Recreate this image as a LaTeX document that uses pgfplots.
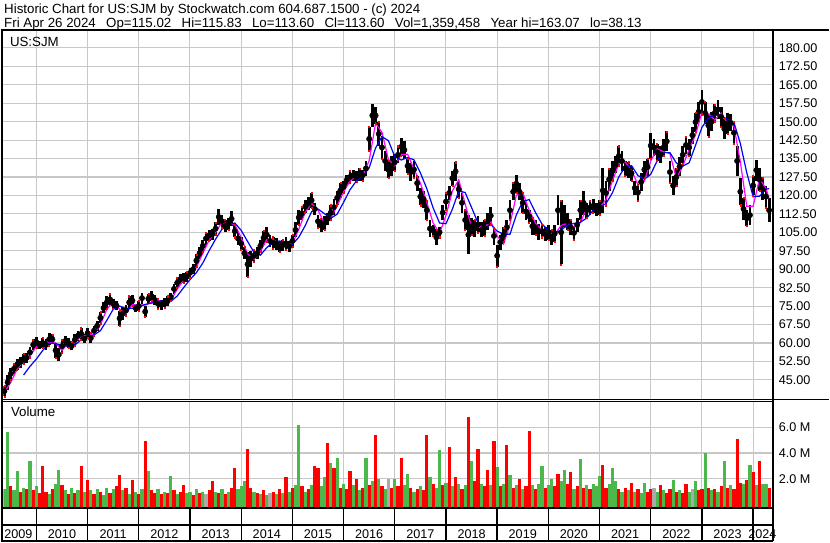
\documentclass[border=0pt]{standalone}
\usepackage{fontspec}
\setmainfont{Liberation Sans}
\usepackage{pgfplots}
\usepackage{pgfplotstable}
\pgfplotsset{compat=1.18}

\definecolor{gridc}{RGB}{200,200,200}
\definecolor{volred}{RGB}{255,0,0}
\definecolor{volgreen}{RGB}{76,184,76}
\definecolor{volgray}{RGB}{170,170,170}
\definecolor{maS}{RGB}{255,0,255}
\definecolor{maL}{RGB}{0,0,255}

% price bars: time (year), low, high
\pgfplotstableread{
t lo hi
2009.375 38.3 42.5
2009.4375 41 47
2009.5 45 50
2009.5625 47.5 51.5
2009.625 49 53.5
2009.6875 50 54.5
2009.75 51.5 55.5
2009.8125 52 56
2009.875 54 58.5
2009.9375 57 61.5
2010.0 58 62.5
2010.0625 57.5 61
2010.125 58 62
2010.1875 57 61.5
2010.25 59 64
2010.3125 59.5 63.5
2010.375 54 60
2010.4375 52.5 58
2010.5 56 61.5
2010.5625 58.5 63
2010.625 58 62
2010.6875 57 60.5
2010.75 59 63.5
2010.8125 61 65
2010.875 61.5 66
2010.9375 60 63.5
2011.0 62 66
2011.0625 60 64
2011.125 63 67
2011.1875 65 69
2011.25 68 72.5
2011.3125 72 76.5
2011.375 74 79
2011.4375 75.5 80
2011.5 74 78
2011.5625 73.5 77
2011.625 67 73
2011.6875 69.5 74.5
2011.75 71 75.5
2011.8125 74 79
2011.875 75 79.5
2011.9375 72.5 76
2012.0 73 77
2012.0625 76 80.5
2012.125 70.5 75
2012.1875 76 80
2012.25 77 81
2012.3125 75.5 79.5
2012.375 74 78
2012.4375 73.5 77.5
2012.5 74.5 78.5
2012.5625 75 79
2012.625 77 80.5
2012.6875 80 84
2012.75 82.5 86.5
2012.8125 84 88
2012.875 84.5 88.5
2012.9375 85 89
2013.0 86.5 90.5
2013.0625 88 92
2013.125 91 96
2013.1875 94 99
2013.25 97 102
2013.3125 100 105
2013.375 101.5 106
2013.4375 102 106.5
2013.5 104 109
2013.5625 108 114.5
2013.625 107 112
2013.6875 105 110
2013.75 106 111
2013.8125 107.5 113.5
2013.875 103 108
2013.9375 100 105
2014.0 98 103
2014.0625 94 99
2014.125 87 97
2014.1875 91 97.5
2014.25 93 98
2014.3125 94 99
2014.375 97 102
2014.4375 100 105.5
2014.5 101 107
2014.5625 99 104
2014.625 98.5 103
2014.6875 98 102.5
2014.75 97 101.5
2014.8125 97.5 102
2014.875 98 103
2014.9375 97 101.5
2015.0 99 104
2015.0625 103 109
2015.125 108 114
2015.1875 110 115.5
2015.25 113 118
2015.3125 114 119.5
2015.375 115 121
2015.4375 112 117
2015.5 107 112
2015.5625 105 110.5
2015.625 106 111.5
2015.6875 108 113
2015.75 110 116
2015.8125 112 118.5
2015.875 116 122
2015.9375 119 125
2016.0 121 126
2016.0625 124 128.5
2016.125 125 130
2016.1875 126 130.5
2016.25 125.5 130
2016.3125 126 131
2016.375 126 130.5
2016.4375 128 134
2016.5 138 148
2016.5625 148 157
2016.625 149 156
2016.6875 140 150
2016.75 135 144
2016.8125 130 138
2016.875 127 134
2016.9375 128 136
2017.0 130 137
2017.0625 133 140
2017.125 136 143.5
2017.1875 135 142
2017.25 129 135
2017.3125 126 133
2017.375 127 134
2017.4375 122 128
2017.5 116 123
2017.5625 115 122
2017.625 110 118
2017.6875 103 110
2017.75 103.5 108
2017.8125 100 106
2017.875 103 107
2017.9375 110 116
2018.0 114 121
2018.0625 118 124
2018.125 124 130
2018.1875 126 133.5
2018.25 119 126
2018.3125 113 121
2018.375 106 114
2018.4375 96 112
2018.5 104 111
2018.5625 103 110
2018.625 105 111.5
2018.6875 103 109
2018.75 103.5 110
2018.8125 106 113
2018.875 108 115.5
2018.9375 100 107
2019.0 91 100
2019.0625 98 104
2019.125 101 107
2019.1875 104 110
2019.25 110 118
2019.3125 118 125
2019.375 121 128.5
2019.4375 118 125
2019.5 113 121
2019.5625 110 117
2019.625 109 114
2019.6875 104 111
2019.75 104 110
2019.8125 102 108.5
2019.875 103 108
2019.9375 101.5 107
2020.0 102 108
2020.0625 100 106
2020.125 101 108
2020.1875 108 120
2020.25 92 118
2020.3125 107 116
2020.375 106 113
2020.4375 104 110
2020.5 102 107.5
2020.5625 105 111
2020.625 110 118
2020.6875 112 122
2020.75 111 117
2020.8125 112 118
2020.875 113 118.5
2020.9375 111.5 117
2021.0 112 118
2021.0625 113 131
2021.125 116 126
2021.1875 122 131
2021.25 126 134
2021.3125 129 136
2021.375 132 140
2021.4375 130 138
2021.5 128 134
2021.5625 127 133.5
2021.625 126 132
2021.6875 120 126
2021.75 118 124.5
2021.8125 122 129
2021.875 127 134
2021.9375 128 135
2022.0 135 145.5
2022.0625 136 143
2022.125 134 141
2022.1875 133 140
2022.25 136 143
2022.3125 138 146
2022.375 125 134
2022.4375 120 128
2022.5 124 131
2022.5625 128 135.5
2022.625 133 140
2022.6875 137 144
2022.75 136 143
2022.8125 141 148
2022.875 146 153.7
2022.9375 150 158
2023.0 153 163
2023.0625 149 158
2023.125 144 153
2023.1875 146 154
2023.25 150 157
2023.3125 151 159
2023.375 148 156
2023.4375 143 151
2023.5 145 153.7
2023.5625 146 153
2023.625 141 150
2023.6875 128 140
2023.75 116 127
2023.8125 110 119
2023.875 107.5 114
2023.9375 108 116
2024.0 120 128
2024.0625 126 134.6
2024.125 122 131
2024.1875 118 127
2024.25 115 124
2024.3125 109 119
}\ohlc

\begin{document}
\begin{tikzpicture}
\begin{scope}[x=0.75pt,y=-0.75pt]
\fill[white] (0,0) rectangle (830,543);
\path[use as bounding box] (0,0) rectangle (830,543);
\end{scope}

\pgfplotsset{
  swchart/.style={
    scale only axis, width=578.25pt,
    xmin=2009.357, xmax=2024.372,
    axis line style={draw=none},
    major tick length=0pt, minor tick length=0pt,
    xtick={2010,...,2024}, xticklabels={},
    grid=major, grid style={gridc, line width=0.8pt},
    yticklabel pos=right,
    tick label style={font=\fontsize{9.5}{11}\selectfont},
    yticklabel style={anchor=west, xshift=1.5pt},
  }
}

% price panel
\begin{axis}[swchart,
  at={(1.5pt,-23.25pt)}, anchor=north west, height=277.5pt,
  ymin=36.9, ymax=186.9,
  ytick={45,52.5,...,180},
  yticklabel style={/pgf/number format/.cd, fixed, fixed zerofill, precision=2, assume math mode=true},
]
\addplot[only marks, mark=none,
  error bars/.cd, y dir=both, y explicit, error mark=none,
  error bar style={black, line width=2.1pt}]
  table[x=t, y expr={(\thisrow{lo}+\thisrow{hi})/2}, y error expr={(\thisrow{hi}-\thisrow{lo})/2}] {\ohlc};
\addplot[only marks, mark=square*, mark size=0.4pt, volred, each nth point=2] table[x=t, y=lo] {\ohlc};
\addplot[only marks, mark=square*, mark size=0.4pt, volred, each nth point=3] table[x=t, y=hi] {\ohlc};
\addplot[maS, line width=0.9pt] coordinates {
(2009.375,40) (2009.5,44) (2009.625,49.4) (2009.75,52.4) (2009.875,54.6)
(2010.0,58.6) (2010.125,59.9) (2010.25,60.3) (2010.375,60) (2010.5,57) (2010.625,59.9) (2010.75,60) (2010.875,62.7)
(2011.0,63.2) (2011.125,63.7) (2011.25,67.4) (2011.375,73.7) (2011.5,76.8) (2011.625,73.8) (2011.75,71.8) (2011.875,75.7)
(2012.0,75.5) (2012.125,75.4) (2012.25,76.6) (2012.375,77.5) (2012.5,76) (2012.625,77.4) (2012.75,81.8) (2012.875,85.7)
(2013.0,87.3) (2013.125,90.7) (2013.25,96.5) (2013.375,101.9) (2013.5,104.9) (2013.625,109.1) (2013.75,108.5) (2013.875,108.2)
(2014.0,102.8) (2014.125,96.3) (2014.25,93.9) (2014.375,97.2) (2014.5,102.1) (2014.625,102.1) (2014.75,100.1) (2014.875,99.9)
(2015.0,100.4) (2015.125,106.2) (2015.25,113.1) (2015.375,116.8) (2015.5,114) (2015.625,108.7) (2015.75,110.8) (2015.875,115.8)
(2016.0,121.5) (2016.125,125.8) (2016.25,127.9) (2016.375,128.2) (2016.5,134.1) (2016.625,149.3) (2016.75,145.7) (2016.875,134.7)
(2017.0,132) (2017.125,136.6) (2017.25,136.8) (2017.375,130.7) (2017.5,125) (2017.625,117.3) (2017.75,108.8) (2017.875,104.6)
(2018.0,111.8) (2018.125,121.8) (2018.25,126.4) (2018.375,116.5) (2018.5,107.2) (2018.625,107.4) (2018.75,107) (2018.875,109.4)
(2019.0,103.6) (2019.125,100.2) (2019.25,108.3) (2019.375,120.1) (2019.5,121.1) (2019.625,114) (2019.75,108.7) (2019.875,105.9)
(2020.0,104.9) (2020.125,104.2) (2020.25,107.8) (2020.375,108.7) (2020.5,107.1) (2020.625,108.9) (2020.75,115) (2020.875,114.9)
(2021.0,115) (2021.125,118.3) (2021.25,125.8) (2021.375,132.8) (2021.5,133.7) (2021.625,130.1) (2021.75,124.4) (2021.875,125.8)
(2022.0,134) (2022.125,139) (2022.25,137.8) (2022.375,137) (2022.5,127) (2022.625,131.9) (2022.75,138.8) (2022.875,144.6)
(2023.0,153.9) (2023.125,153.3) (2023.25,150.7) (2023.375,153.5) (2023.5,149.4) (2023.625,148.1) (2023.75,133.7) (2023.875,115.6)
(2024.0,115.6) (2024.125,126.9) (2024.25,122.8) (2024.3125,118.7)
};
\addplot[maL, line width=0.9pt] coordinates {
(2009.75,47) (2009.875,50.5)
(2010.0,53.5) (2010.125,57) (2010.25,60) (2010.375,59.8) (2010.5,58.9) (2010.625,58.9) (2010.75,59.2) (2010.875,61.3)
(2011.0,62.1) (2011.125,63.3) (2011.25,65) (2011.375,69.2) (2011.5,73.7) (2011.625,75) (2011.75,74.1) (2011.875,74.1)
(2012.0,74.7) (2012.125,75.7) (2012.25,76.2) (2012.375,76.9) (2012.5,77.1) (2012.625,76.9) (2012.75,79.1) (2012.875,82.5)
(2013.0,85.8) (2013.125,88.6) (2013.25,92.5) (2013.375,97.6) (2013.5,102.2) (2013.625,106.3) (2013.75,107.9) (2013.875,108.8)
(2014.0,105.8) (2014.125,101.3) (2014.25,96.9) (2014.375,95.7) (2014.5,98.8) (2014.625,100.9) (2014.75,101.5) (2014.875,100.4)
(2015.0,100.1) (2015.125,103) (2015.25,107.7) (2015.375,113.4) (2015.5,114.5) (2015.625,112.6) (2015.75,110.7) (2015.875,112.4)
(2016.0,117.2) (2016.125,122.3) (2016.25,125.9) (2016.375,127.8) (2016.5,131.2) (2016.625,139.3) (2016.75,143.9) (2016.875,142.3)
(2017.0,135.8) (2017.125,134.4) (2017.25,135.4) (2017.375,134.5) (2017.5,129.2) (2017.625,122.8) (2017.75,114.9) (2017.875,108.8)
(2018.0,108.5) (2018.125,114.4) (2018.25,121.8) (2018.375,121.2) (2018.5,115.1) (2018.625,108.9) (2018.75,106.5) (2018.875,108.2)
(2019.0,105.5) (2019.125,104.2) (2019.25,104.2) (2019.375,112.1) (2019.5,117.6) (2019.625,118.3) (2019.75,113) (2019.875,108.4)
(2020.0,105.8) (2020.125,104.6) (2020.25,106) (2020.375,107.9) (2020.5,108.6) (2020.625,109.1) (2020.75,110.8) (2020.875,114)
(2021.0,115.2) (2021.125,116.7) (2021.25,121) (2021.375,127.5) (2021.5,131.7) (2021.625,132.1) (2021.75,128.1) (2021.875,126.6)
(2022.0,128.6) (2022.125,134.1) (2022.25,137.4) (2022.375,137.4) (2022.5,133.2) (2022.625,131.9) (2022.75,133.3) (2022.875,140.4)
(2023.0,147.7) (2023.125,151.4) (2023.25,152.9) (2023.375,152.1) (2023.5,151.1) (2023.625,149.7) (2023.75,141.1) (2023.875,129.3)
(2024.0,119.5) (2024.125,119.7) (2024.25,122.5) (2024.3125,122.8)
};
\end{axis}

% volume panel (millions); bars start at the panel floor, 0.24 M below zero
\begin{axis}[swchart,
  at={(1.5pt,-302.25pt)}, anchor=north west, height=79.5pt,
  ymin=0, ymax=8.22,
  y filter/.expression={y+0.24},
  ytick={2.24,4.24,6.24}, yticklabels={2.0 M,4.0 M,6.0 M},
  extra x ticks={2009.65,2010.5,2011.5,2012.5,2013.5,2014.5,2015.5,2016.5,2017.5,2018.5,2019.5,2020.5,2021.5,2022.5,2023.5,2024.18},
  extra x tick labels={2009,2010,2011,2012,2013,2014,2015,2016,2017,2018,2019,2020,2021,2022,2023,2024},
  extra x tick style={grid=none, xticklabel style={anchor=base, yshift=-23.25pt}},
]
\addplot[ycomb, volgreen, line width=2.4pt] coordinates {
(2009.375,1.2) (2009.4375,5.6) (2009.5625,1.1) (2009.625,2.6) (2009.75,1.3) (2009.875,3.4)
(2010.0,1.4) (2010.25,0.8) (2010.375,1.6) (2010.4375,2.7) (2010.5625,1.1) (2010.6875,1.3) (2010.8125,1.1) (2010.9375,1.0)
(2011.0625,1.1) (2011.1875,1.2) (2011.3125,0.7) (2011.375,1.3) (2011.5,1.2) (2011.6875,1.1) (2011.8125,0.8) (2011.9375,1.0)
(2012.0625,1.2) (2012.1875,2.6) (2012.375,1.2) (2012.5,1.0) (2012.625,2.2) (2012.75,0.8) (2012.9375,0.9)
(2013.0,1.0) (2013.125,1.2) (2013.25,1.0) (2013.5,1.0) (2013.625,1.2) (2013.75,1.0) (2013.9375,1.2)
(2014.0,1.4) (2014.0625,1.8) (2014.25,1.0) (2014.375,0.8) (2014.5,0.7) (2014.6875,0.8) (2014.8125,0.9) (2014.9375,1.0)
(2015.0625,1.5) (2015.125,6.2) (2015.25,1.0) (2015.375,1.5) (2015.5625,1.4) (2015.625,2.1) (2015.75,3.2) (2015.875,3.6)
(2016.0,1.6) (2016.1875,1.5) (2016.3125,1.1) (2016.4375,3.6) (2016.5625,1.8) (2016.6875,2.0) (2016.8125,1.2)
(2017.0,2.0) (2017.1875,1.5) (2017.25,2.4) (2017.375,1.0) (2017.5,1.4) (2017.6875,2.1) (2017.8125,1.3) (2017.875,4.2)
(2018.0,1.7) (2018.125,1.4) (2018.25,1.6) (2018.375,1.5) (2018.5,3.4) (2018.6875,1.6) (2018.875,1.5)
(2019.0,2.9) (2019.125,1.6) (2019.25,2.3) (2019.375,1.5) (2019.5,1.2) (2019.6875,1.5) (2019.8125,1.6) (2019.875,3.0)
(2020.0,1.5) (2020.0625,2.0) (2020.25,1.8) (2020.3125,2.7) (2020.5,1.2) (2020.625,3.5) (2020.75,1.5) (2020.875,1.6) (2020.9375,1.4)
(2021.0,2.2) (2021.1875,1.6) (2021.25,2.8) (2021.3125,1.8) (2021.4375,1.0) (2021.5625,1.1) (2021.6875,1.0) (2021.8125,0.9) (2021.875,1.7)
(2022.125,1.0) (2022.25,1.1) (2022.4375,1.9) (2022.5625,1.1) (2022.75,1.0) (2022.875,1.8)
(2023.0625,4.0) (2023.1875,1.1) (2023.3125,1.0) (2023.4375,3.4) (2023.5625,1.5) (2023.8125,1.6) (2023.9375,3.1)
(2024.0625,1.5) (2024.1875,1.6) (2024.25,1.6)
};
\addplot[ycomb, volred, line width=2.4pt] coordinates {
(2009.5,1.4) (2009.6875,1.0) (2009.8125,1.2) (2009.9375,1.1)
(2010.0625,0.9) (2010.125,3.0) (2010.1875,1.0) (2010.3125,1.2) (2010.5,1.5) (2010.625,0.8) (2010.75,0.9) (2010.875,3.0)
(2011.0,1.9) (2011.125,0.8) (2011.25,1.0) (2011.4375,0.9) (2011.5625,1.4) (2011.625,2.3) (2011.75,1.3) (2011.875,1.9)
(2012.0,0.8) (2012.125,4.9) (2012.25,1.1) (2012.3125,0.9) (2012.4375,0.8) (2012.5625,0.9) (2012.6875,1.1) (2012.8125,1.0) (2012.875,1.5)
(2013.0625,0.7) (2013.1875,0.9) (2013.375,1.1) (2013.4375,1.8) (2013.5625,0.9) (2013.6875,0.8) (2013.8125,1.3) (2013.875,2.8)
(2014.125,4.3) (2014.1875,1.3) (2014.3125,0.9) (2014.4375,1.1) (2014.625,1.0) (2014.75,1.2) (2014.875,2.1)
(2015.0,1.3) (2015.1875,1.4) (2015.3125,1.2) (2015.4375,3.0) (2015.5,2.8) (2015.6875,4.8) (2015.8125,2.8) (2015.9375,1.3)
(2016.0625,1.2) (2016.125,2.6) (2016.25,2.0) (2016.375,1.3) (2016.5,1.5) (2016.625,5.4) (2016.75,1.4) (2016.9375,1.3)
(2017.0625,1.4) (2017.125,3.6) (2017.3125,1.3) (2017.4375,1.2) (2017.5625,1.1) (2017.625,5.4) (2017.75,1.6) (2017.9375,1.5)
(2018.0625,4.5) (2018.1875,2.1) (2018.3125,1.2) (2018.4375,6.8) (2018.5625,1.8) (2018.625,4.3) (2018.75,1.4) (2018.8125,2.7) (2018.9375,4.9)
(2019.0625,1.4) (2019.1875,4.6) (2019.3125,1.3) (2019.4375,2.0) (2019.5625,1.4) (2019.625,5.7) (2019.75,1.2) (2019.9375,1.3)
(2020.125,1.4) (2020.1875,2.4) (2020.375,1.6) (2020.4375,2.5) (2020.5625,1.4) (2020.6875,1.3) (2020.8125,1.2)
(2021.0625,3.1) (2021.125,1.3) (2021.375,1.2) (2021.5,1.3) (2021.625,1.7) (2021.75,1.2) (2021.9375,1.0)
(2022.0,1.2) (2022.1875,1.5) (2022.3125,0.9) (2022.375,1.2) (2022.5,1.0) (2022.625,0.9) (2022.6875,1.6) (2022.9375,1.1)
(2023.0,1.2) (2023.125,1.3) (2023.25,1.2) (2023.375,1.4) (2023.5,1.3) (2023.625,1.2) (2023.6875,5.1) (2023.75,1.7) (2023.875,1.9)
(2024.0,2.5) (2024.125,3.4) (2024.3125,1.3)
};
\addplot[ycomb, volgray, line width=2.4pt] coordinates {
(2013.3125,0.8) (2014.5625,0.9) (2016.875,2.0) (2022.0625,1.3) (2022.8125,1.2)
};
\end{axis}

% frame and headings (pixel coordinates, y downward)
\begin{scope}[x=0.75pt,y=-0.75pt]
\draw[line width=1.5pt] (0,30.5) -- (830,30.5);
\draw[line width=1.5pt] (1,30) -- (1,543);
\draw[line width=1.5pt] (773.5,30) -- (773.5,543);
\draw[line width=0.8pt] (0,400.8) -- (830,400.8);
\draw[line width=0.8pt] (0,402.7) -- (773.5,402.7);
\draw[line width=1.1pt] (0,509.3) -- (773.5,509.3);
\draw[line width=1.5pt] (0,526.8) -- (773.5,526.8);
\draw[line width=1.5pt] (0,542.2) -- (773.5,542.2);
\foreach \k in {0,...,14} \draw[line width=1pt] (35+\k*51.35,510) -- (35+\k*51.35,543);
\node[anchor=base west, inner sep=0, font=\fontsize{10}{12}\selectfont] at (2.5,13.5)
  {Historic Chart for US:SJM by Stockwatch.com 604.687.1500 - (c) 2024};
\node[anchor=base west, inner sep=0, font=\fontsize{10}{12}\selectfont] at (2.5,28)
  {Fri Apr 26 2024\hspace{0.5em} Op=115.02\hspace{0.5em} Hi=115.83\hspace{0.5em} Lo=113.60\hspace{0.5em} Cl=113.60\hspace{0.5em} Vol=1,359,458\hspace{0.5em} Year hi=163.07\hspace{0.5em} lo=38.13};
\node[anchor=base west, inner sep=0, font=\fontsize{10}{12}\selectfont] at (8.3,46.7) {US:SJM};
\node[anchor=base west, inner sep=0, font=\fontsize{10}{12}\selectfont] at (9.3,418) {Volume};
\end{scope}
\end{tikzpicture}
\end{document}
